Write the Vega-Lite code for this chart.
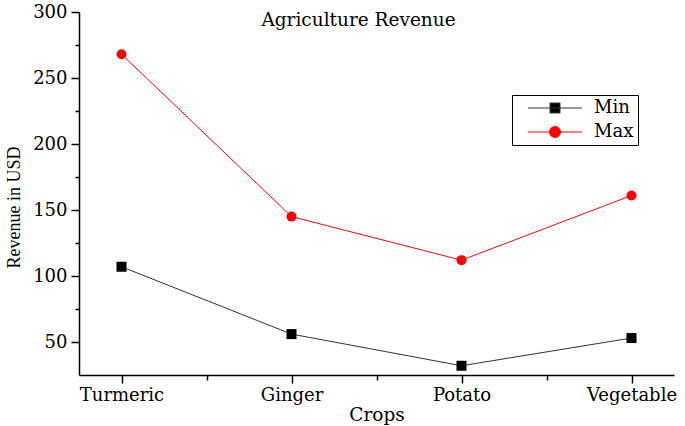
{
  "$schema": "https://vega.github.io/schema/vega-lite/v6.json",
  "autosize": "none",
  "width": 595,
  "height": 363,
  "padding": {"left": 79, "top": 12, "right": 11, "bottom": 51},
  "background": "white",
  "title": {"text": "Agriculture Revenue", "offset": -26, "dx": -18, "font": "DejaVu Serif", "fontSize": 18.5, "fontWeight": "normal", "color": "black"},
  "config": {
    "view": {"stroke": null},
    "axis": {"grid": false, "labelFont": "DejaVu Serif", "titleFont": "DejaVu Serif", "labelColor": "black", "titleColor": "black", "domainColor": "black", "tickColor": "black", "labelFontSize": 18, "titleFontSize": 18.5, "titleFontWeight": "normal", "domainWidth": 1.5, "tickWidth": 1.5},
    "legend": {"title": null, "orient": "none", "legendX": 433, "legendY": 83, "strokeColor": "black", "fillColor": "white", "padding": 4, "symbolOffset": 30, "rowPadding": 6, "labelOffset": 30, "labelFont": "DejaVu Serif", "labelFontSize": 18, "labelColor": "black", "symbolStrokeWidth": 1}
  },
  "data": {"values": [
    {"crop": "Turmeric", "idx": 1, "series": "Min", "value": 107},
    {"crop": "Ginger", "idx": 2, "series": "Min", "value": 56},
    {"crop": "Potato", "idx": 3, "series": "Min", "value": 32},
    {"crop": "Vegetable", "idx": 4, "series": "Min", "value": 53},
    {"crop": "Turmeric", "idx": 1, "series": "Max", "value": 268},
    {"crop": "Ginger", "idx": 2, "series": "Max", "value": 145},
    {"crop": "Potato", "idx": 3, "series": "Max", "value": 112},
    {"crop": "Vegetable", "idx": 4, "series": "Max", "value": 161}
  ]},
  "resolve": {"axis": {"x": "independent", "y": "independent"}},
  "layer": [
    {
      "transform": [{"filter": "datum.series === 'Min'"}],
      "mark": {"type": "line", "strokeWidth": 1, "color": "#333333"},
      "encoding": {
        "x": {"field": "idx", "type": "quantitative", "scale": {"domain": [0.75, 4.25], "nice": false, "zero": false},
          "axis": {"values": [1, 2, 3, 4], "labelExpr": "['','Turmeric','Ginger','Potato','Vegetable'][datum.value]", "tickSize": 8, "labelPadding": 3, "title": "Crops", "titlePadding": 1}},
        "y": {"field": "value", "type": "quantitative", "scale": {"domain": [25, 300], "nice": false, "zero": false},
          "axis": {"values": [50, 100, 150, 200, 250, 300], "tickSize": 8, "labelPadding": 4, "title": "Revenue in USD", "titleFont": "Liberation Serif", "titleFontSize": 18, "titleX": -56, "titleY": 195}}
      }
    },
    {
      "transform": [{"filter": "datum.series === 'Max'"}],
      "mark": {"type": "line", "strokeWidth": 1, "color": "#ff0000"},
      "encoding": {
        "x": {"field": "idx", "type": "quantitative", "axis": null},
        "y": {"field": "value", "type": "quantitative", "axis": null}
      }
    },
    {
      "transform": [{"filter": "datum.series === 'Min'"}],
      "mark": {"type": "point", "filled": true, "opacity": 1, "size": 100, "shape": "square", "color": "#000000"},
      "encoding": {
        "x": {"field": "idx", "type": "quantitative", "axis": null},
        "y": {"field": "value", "type": "quantitative", "axis": null}
      }
    },
    {
      "transform": [{"filter": "datum.series === 'Max'"}],
      "mark": {"type": "point", "filled": true, "opacity": 1, "size": 100, "shape": "circle", "color": "#ff0000"},
      "encoding": {
        "x": {"field": "idx", "type": "quantitative", "axis": null},
        "y": {"field": "value", "type": "quantitative", "axis": null}
      }
    },
    {
      "transform": [{"filter": "false"}],
      "mark": {"type": "point", "filled": true, "opacity": 1, "size": 100, "strokeWidth": 1},
      "encoding": {
        "x": {"field": "idx", "type": "quantitative", "axis": null},
        "y": {"field": "value", "type": "quantitative", "axis": null},
        "fill": {"field": "series", "type": "nominal", "scale": {"domain": ["Min", "Max"], "range": ["#000000", "#ff0000"]}, "legend": {"title": null}},
        "stroke": {"field": "series", "type": "nominal", "scale": {"domain": ["Min", "Max"], "range": ["#333333", "#ff0000"]}, "legend": {"title": null}},
        "shape": {"field": "series", "type": "nominal", "scale": {"domain": ["Min", "Max"], "range": ["M-5.4,0H5.4M-1,-1H1V1H-1Z", "M-5.4,0H5.4M-1.1,0A1.1,1.1 0 1,0 1.1,0A1.1,1.1 0 1,0 -1.1,0Z"]}, "legend": {"title": null}}
      }
    },
    {
      "mark": {"type": "point", "opacity": 0},
      "encoding": {
        "x": {"field": "idx", "type": "quantitative", "axis": {"values": [1.5, 2.5, 3.5], "labels": false, "domain": false, "tickSize": 5, "title": null, "orient": "bottom"}},
        "y": {"field": "value", "type": "quantitative", "axis": {"values": [75, 125, 175, 225, 275], "labels": false, "domain": false, "tickSize": 4, "title": null, "orient": "left"}}
      }
    }
  ]
}
